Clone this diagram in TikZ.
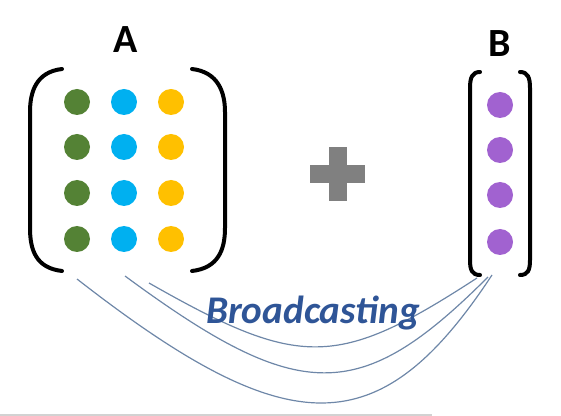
\documentclass[tikz,border=0pt]{standalone}
\usepackage{fontspec}
\setmainfont{Carlito}
\usepackage{tikz}
\definecolor{dgreen}{RGB}{84,130,53}
\definecolor{dcyan}{RGB}{0,176,240}
\definecolor{dyellow}{RGB}{255,192,0}
\definecolor{dpurple}{RGB}{161,98,208}
\definecolor{curvecol}{RGB}{110,135,168}
\definecolor{textblue}{RGB}{47,85,151}
\tikzset{
	gdot/.style={circle,inner sep=0pt,minimum size=13pt,fill=dgreen},
	cdot/.style={circle,inner sep=0pt,minimum size=13pt,fill=dcyan},
	ydot/.style={circle,inner sep=0pt,minimum size=13pt,fill=dyellow},
	pdot/.style={circle,inner sep=0pt,minimum size=13pt,fill=dpurple},
	brack/.style={line width=2pt,line cap=round},
	bcurve/.style={curvecol,line width=0.6pt},
	mlabel/.style={anchor=base,font=\fontsize{20}{24}\selectfont\bfseries}
}

\begin{document}
\begin{tikzpicture}[x=0.5pt,y=-0.5pt]
						\useasboundingbox (0,0) rectangle (561,416);
						\node [mlabel] (A) at (126,53) {A};
						\node [mlabel] (B) at (500,57) {B};
						
						\node [gdot] (a11) at (77,102) {};
						\node [cdot] (a12) at (124,102) {};
						\node [ydot] (a13) at (171,102) {};
						\node [gdot] (a21) at (77,147) {};
						\node [cdot] (a22) at (124,147) {};
						\node [ydot] (a23) at (171,147) {};
						\node [gdot] (a31) at (77,193) {};
						\node [cdot] (a32) at (124,193) {};
						\node [ydot] (a33) at (171,193) {};
						\node [gdot] (a41) at (77,239) {};
						\node [cdot] (a42) at (124,239) {};
						\node [ydot] (a43) at (171,239) {};
						
						\node [pdot] (b1) at (500,105) {};
						\node [pdot] (b2) at (500,150) {};
						\node [pdot] (b3) at (500,195) {};
						\node [pdot] (b4) at (500,242) {};
						
						\draw [brack] (62,69) .. controls (36,72) and (30,92) .. (30,112) -- (30,228) .. controls (30,250) and (36,268) .. (62,271);
						\draw [brack] (192,69) .. controls (218,72) and (225,92) .. (225,112) -- (225,228) .. controls (225,250) and (218,268) .. (192,271);
						\draw [brack] (480,72) .. controls (472,72) and (470,78) .. (470,88) -- (470,260) .. controls (470,270) and (472,275) .. (480,275);
						\draw [brack] (520,72) .. controls (528,72) and (530,78) .. (530,88) -- (530,260) .. controls (530,270) and (528,275) .. (520,275);
						
						\fill [gray] (310,165) rectangle (365,183);
						\fill [gray] (329,147) rectangle (347,201);
						
						\coordinate (s1) at (77,279);
						\coordinate (s2) at (125,276);
						\coordinate (s3) at (149,283);
						\coordinate (e1) at (492,275);
						\coordinate (e2) at (488,277);
						\coordinate (e3) at (477,278);
						\draw [bcurve] (s1) .. controls (290,445) and (380,445) .. (e1);
						\draw [bcurve] (s2) .. controls (300,405) and (360,405) .. (e2);
						\draw [bcurve] (s3) .. controls (300,369) and (337,369) .. (e3);
						
						\node [anchor=base,text=textblue,font=\fontsize{19.6}{23}\selectfont\bfseries\itshape] (bc) at (313,323) {Broadcasting};
						
						\draw [gray!35,line width=0.8pt] (0,415) -- (432,415);
;					\end{tikzpicture}
\end{document}
